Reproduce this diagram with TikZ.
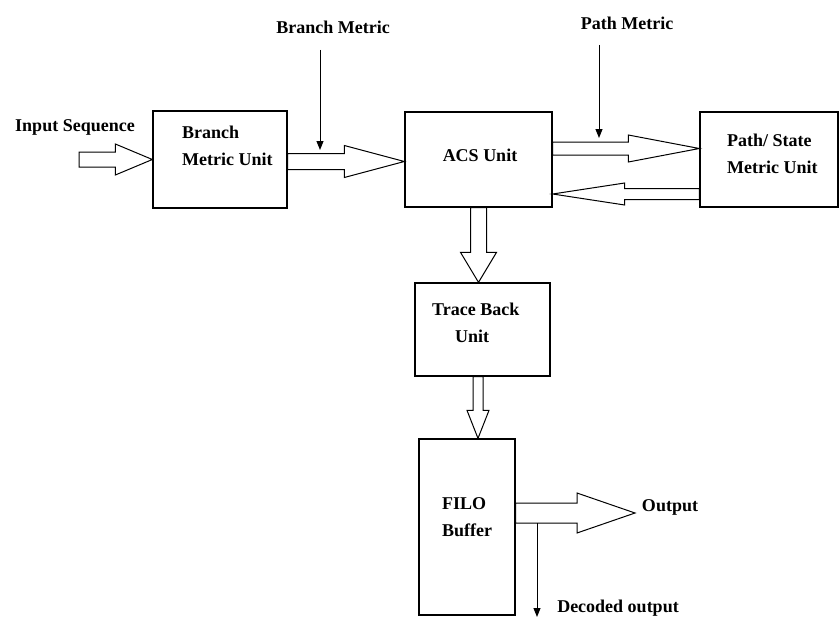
\documentclass[tikz,border=0pt]{standalone}
\usepackage{fontspec}
\setmainfont{Liberation Serif}
\usetikzlibrary{calc,arrows.meta}
\begin{document}
\begin{tikzpicture}[x=1pt, y=-1pt, font=\bfseries\fontsize{18}{27}\selectfont]
        \tikzstyle{unit}=[draw, line width=1.3pt, inner sep=0pt]
        \tikzstyle{txt}=[inner sep=0pt, align=left]
        \tikzstyle{feed}=[line width=1pt, -{Triangle[length=9pt, width=7pt]}]
        \tikzset{fat/.style n args={3}{draw, line width=1pt, to path={let \p1=(\tikztostart), \p2=(\tikztotarget), \n1={atan2(\y2-\y1,\x2-\x1)}, \n2={veclen(\x2-\x1,\y2-\y1)} in {[shift={(\p1)}, rotate=\n1] (0,#1) -- ({\n2-#3},#1) -- ({\n2-#3},#2) -- (\n2,0) -- ({\n2-#3},-#2) -- ({\n2-#3},-#1) -- (0,-#1) -- cycle}}}}
        \useasboundingbox (0,0) rectangle (840,618);

        % Bloques
        \node[unit, minimum width=134pt, minimum height=97pt] (bmu) at (220,159.5) {};
        \node[unit, minimum width=147pt, minimum height=95pt] (acs) at (478.5,159.5) {};
        \node[unit, minimum width=138pt, minimum height=95pt] (psmu) at (769,159.5) {};
        \node[unit, minimum width=135pt, minimum height=93pt] (tbu) at (482.5,329.5) {};
        \node[unit, minimum width=96pt, minimum height=176pt] (filo) at (467,527) {};

        \node[txt, anchor=west] (bmutxt) at (182,146) {Branch\\Metric Unit};
        \node[txt] (acstxt) at (480,155) {ACS Unit};
        \node[txt, anchor=west] (psmutxt) at (727,153.5) {Path/ State\\Metric Unit};
        \node[txt, anchor=west] (tbutxt) at (432,323) {Trace Back\\\hspace*{23pt}Unit};
        \node[txt, anchor=west] (filotxt) at (442,517) {FILO\\Buffer};

        \node[txt] (insq) at (75,127) {Input Sequence};
        \node[txt] (bmlbl) at (333,27) {Branch Metric};
        \node[txt] (pmlbl) at (627,23) {Path Metric};
        \node[txt] (outlbl) at (670,507) {Output};
        \node[txt] (declbl) at (618,608) {Decoded output};

        % Flechas huecas
        \coordinate (instart) at (79,159.5);
        \draw[fat={7.5}{15.5}{37}] (instart) to (bmu.west);
        \draw[fat={8}{16}{60}] ([yshift=-2pt]bmu.east) to ([yshift=-2pt]acs.west);
        \draw[fat={6.5}{13.5}{71}] ([yshift=11pt]acs.east) to ([yshift=11pt]psmu.west);
        \draw[fat={5.5}{11}{72}] ([yshift=-34.5pt]psmu.west) to ([yshift=-34.5pt]acs.east);
        \draw[fat={8}{18}{30}] (acs.south) to (acs.south |- tbu.north);
        \coordinate (tbout) at ([xshift=-4.5pt]tbu.south);
        \draw[fat={5}{11}{28}] (tbout) to (tbout |- filo.north);
        \coordinate (outtip) at (635,513);
        \draw[fat={10}{20}{58}] ([yshift=14pt]filo.east) to (outtip);

        % Flechas finas
        \coordinate (bmtop) at (320,50); \coordinate (bmtip) at (320,150);
        \coordinate (pmtop) at (599,45); \coordinate (pmtip) at (599,138);
        \coordinate (dectop) at (537,523); \coordinate (decend) at (537,617);
        \draw[feed] (bmtop) -- (bmtip);
        \draw[feed] (pmtop) -- (pmtip);
        \draw[feed] (dectop) -- (decend);
\end{tikzpicture}
\end{document}
